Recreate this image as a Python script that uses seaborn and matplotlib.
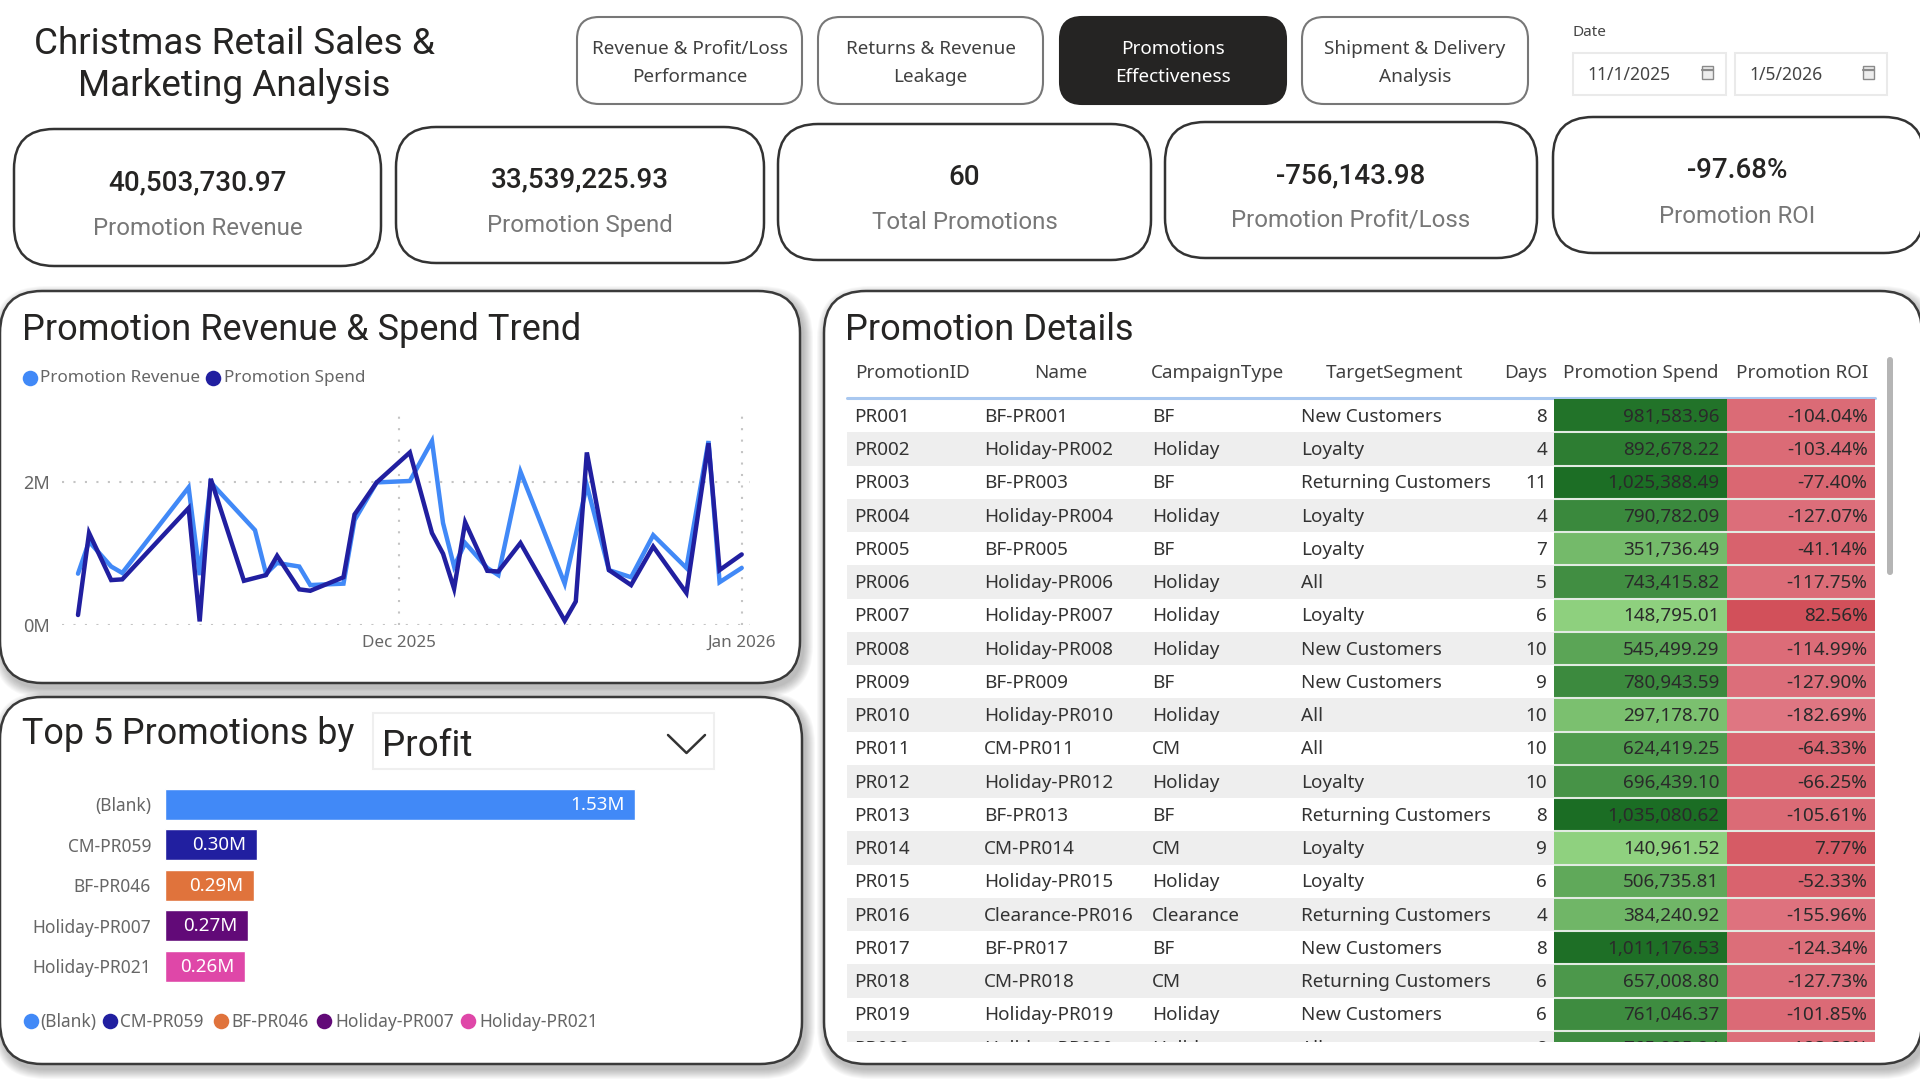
import matplotlib
matplotlib.use("Agg")
import matplotlib.pyplot as plt
import matplotlib.dates as mdates
from matplotlib.colors import LinearSegmentedColormap
from matplotlib.patches import FancyBboxPatch, Rectangle
import numpy as np
import pandas as pd
import seaborn as sns

sns.set_theme(style="white")
plt.rcParams["font.family"] = ["Roboto", "DejaVu Sans"]

W, H = 1920, 1080
INK = "#252423"
MUTED = "#666666"
BODY = "Noto Sans"

# KPI cards
kpi_values = ["40,503,730.97", "33,539,225.93", "60", "-756,143.98", "-97.68%"]
kpi_labels = ["Promotion Revenue", "Promotion Spend", "Total Promotions",
              "Promotion Profit/Loss", "Promotion ROI"]

# Navigation buttons
nav_labels = ["Revenue & Profit/Loss\nPerformance", "Returns & Revenue\nLeakage",
              "Promotions\nEffectiveness", "Shipment & Delivery\nAnalysis"]
date_range = ["11/1/2025", "1/5/2026"]

# Daily trend, in millions
revenue_dates = ["2025-11-02", "2025-11-03", "2025-11-05", "2025-11-06", "2025-11-12",
                 "2025-11-13", "2025-11-14", "2025-11-18", "2025-11-19", "2025-11-20",
                 "2025-11-22", "2025-11-23", "2025-11-26", "2025-11-27", "2025-11-29",
                 "2025-12-02", "2025-12-04", "2025-12-05", "2025-12-06", "2025-12-07",
                 "2025-12-09", "2025-12-10", "2025-12-12", "2025-12-16", "2025-12-18",
                 "2025-12-20", "2025-12-22", "2025-12-24", "2025-12-27", "2025-12-29",
                 "2025-12-30", "2026-01-01"]
revenue_values = [0.72, 1.17, 0.82, 0.73, 1.93, 0.70, 2.00, 1.33, 0.72, 0.87, 0.82, 0.56,
                  0.58, 1.47, 2.00, 2.02, 2.58, 1.43, 0.82, 1.15, 0.80, 0.70, 2.15, 0.58,
                  1.96, 0.77, 0.67, 1.26, 0.80, 2.58, 0.60, 0.80]
spend_dates = ["2025-11-02", "2025-11-03", "2025-11-05", "2025-11-06", "2025-11-12",
               "2025-11-13", "2025-11-14", "2025-11-17", "2025-11-19", "2025-11-20",
               "2025-11-22", "2025-11-23", "2025-11-26", "2025-11-27", "2025-11-29",
               "2025-12-02", "2025-12-04", "2025-12-05", "2025-12-06", "2025-12-07",
               "2025-12-09", "2025-12-10", "2025-12-12", "2025-12-16", "2025-12-17",
               "2025-12-18", "2025-12-20", "2025-12-22", "2025-12-24", "2025-12-27",
               "2025-12-29", "2025-12-30", "2026-01-01"]
spend_values = [0.14, 1.29, 0.63, 0.64, 1.64, 0.05, 2.05, 0.62, 0.70, 0.97, 0.50, 0.48,
                0.67, 1.55, 2.00, 2.42, 1.29, 1.00, 0.51, 1.44, 0.76, 0.75, 1.15, 0.06,
                0.33, 2.42, 0.77, 0.56, 1.10, 0.45, 2.55, 0.77, 0.99]

# Top five promotions by profit, in millions
top_names = ["(Blank)", "CM-PR059", "BF-PR046", "Holiday-PR007", "Holiday-PR021"]
top_profit = [1.53, 0.30, 0.29, 0.27, 0.26]
top_colors = ["#4189F7", "#211FA0", "#E0733C", "#620A78", "#DF47A8"]

# Promotion details table
promotion_ids = ["PR001", "PR002", "PR003", "PR004", "PR005", "PR006", "PR007", "PR008",
                 "PR009", "PR010", "PR011", "PR012", "PR013", "PR014", "PR015", "PR016",
                 "PR017", "PR018", "PR019", "PR020"]
promotion_names = ["BF-PR001", "Holiday-PR002", "BF-PR003", "Holiday-PR004", "BF-PR005",
                   "Holiday-PR006", "Holiday-PR007", "Holiday-PR008", "BF-PR009",
                   "Holiday-PR010", "CM-PR011", "Holiday-PR012", "BF-PR013", "CM-PR014",
                   "Holiday-PR015", "Clearance-PR016", "BF-PR017", "CM-PR018",
                   "Holiday-PR019", "Holiday-PR020"]
campaign_types = ["BF", "Holiday", "BF", "Holiday", "BF", "Holiday", "Holiday", "Holiday",
                  "BF", "Holiday", "CM", "Holiday", "BF", "CM", "Holiday", "Clearance",
                  "BF", "CM", "Holiday", "Holiday"]
target_segments = ["New Customers", "Loyalty", "Returning Customers", "Loyalty", "Loyalty",
                   "All", "Loyalty", "New Customers", "New Customers", "All", "All",
                   "Loyalty", "Returning Customers", "Loyalty", "Loyalty",
                   "Returning Customers", "New Customers", "Returning Customers",
                   "New Customers", "All"]
promotion_days = [8, 4, 11, 4, 7, 5, 6, 10, 9, 10, 10, 10, 8, 9, 6, 4, 8, 6, 6, 8]
promotion_spend = [981583.96, 892678.22, 1025388.49, 790782.09, 351736.49, 743415.82,
                   148795.01, 545499.29, 780943.59, 297178.70, 624419.25, 696439.10,
                   1035080.62, 140961.52, 506735.81, 384240.92, 1011176.53, 657008.80,
                   761046.37, 765835.84]
promotion_roi = [-104.04, -103.44, -77.40, -127.07, -41.14, -117.75, 82.56, -114.99,
                 -127.90, -182.69, -64.33, -66.25, -105.61, 7.77, -52.33, -155.96,
                 -124.34, -127.73, -101.85, -123.33]
table_headers = ["PromotionID", "Name", "CampaignType", "TargetSegment", "Days",
                 "Promotion Spend", "Promotion ROI"]

fig = plt.figure(figsize=(19.2, 10.8), dpi=100, facecolor="white")


def px_axes(x0, y0, x1, y1, **kw):
    """Axes placed by pixel box, with y measured from the top of the canvas."""
    return fig.add_axes([x0 / W, 1 - y1 / H, (x1 - x0) / W, (y1 - y0) / H], **kw)


bg = px_axes(0, 0, W, H, zorder=0)
bg.set_xlim(0, W)
bg.set_ylim(H, 0)
bg.axis("off")


def rounded(x0, y0, x1, y1, r, **kw):
    patch = FancyBboxPatch((x0 + r, y0 + r), x1 - x0 - 2 * r, y1 - y0 - 2 * r,
                           boxstyle=f"round,pad={r},rounding_size={r}", **kw)
    bg.add_patch(patch)
    return patch


def panel(x0, y0, x1, y1, r=42):
    for k in range(10, 0, -1):
        rounded(x0 + 3 - k, y0 + 5 - k, x1 + 3 + k, y1 + 5 + k, r + k,
                fc="#000000", ec="none", alpha=0.028)
    rounded(x0, y0, x1, y1, r, fc="white", ec="#3A3A3A", lw=1.8)


# Page title
bg.text(234, 43.5, "Christmas Retail Sales &", ha="center", va="center", fontsize=26.6, color=INK)
bg.text(234, 86.5, "Marketing Analysis", ha="center", va="center", fontsize=26.6, color=INK)

# Navigation buttons
nav_boxes = [(577, 802), (818, 1043), (1060, 1286), (1302, 1528)]
for i, (label, (x0, x1)) in enumerate(zip(nav_labels, nav_boxes)):
    active = i == 2
    rounded(x0, 17, x1, 104, 22, fc=INK if active else "white",
            ec=INK if active else "#777777", lw=1.5)
    for j, line in enumerate(label.split("\n")):
        bg.text((x0 + x1) / 2, 49 + j * 28.5, line, ha="center", va="center", fontsize=13.6,
                family=BODY, color="white" if active else "#404040")

# Date slicer
bg.text(1572, 32.5, "Date", ha="left", va="center", fontsize=11, family=BODY, color="#444444")
for (x0, x1), value in zip([(1573, 1726), (1735, 1887)], date_range):
    bg.add_patch(Rectangle((x0, 53), x1 - x0, 42, fc="white", ec="#EAEAEA", lw=1.5))
    bg.text(x0 + 14, 75.5, value, ha="left", va="center", fontsize=12.6, family=BODY, color="#444444")
    bg.add_patch(Rectangle((x1 - 24, 66), 11, 13, fc="#EDEDED", ec="#8A8A8A", lw=1.0))
    bg.plot([x1 - 24, x1 - 13], [69.5, 69.5], color="#8A8A8A", lw=1.6)

# KPI cards
kpi_boxes = [(14, 129, 381, 266, 181, 228), (396, 127, 764, 263, 178, 225),
             (778, 124, 1151, 260, 176, 222), (1165, 122, 1537, 258, 174, 220),
             (1553, 117, 1924, 253, 169, 216)]
for (x0, y0, x1, y1, yv, yl), value, label in zip(kpi_boxes, kpi_values, kpi_labels):
    rounded(x0, y0, x1, y1, 40, fc="white", ec="#333333", lw=1.8)
    cx = (x0 + min(x1, 1922)) / 2
    bg.text(cx, yv + 1.5, value, ha="center", va="center", fontsize=20, weight="medium", color=INK)
    bg.text(cx, yl + 0.5, label, ha="center", va="center", fontsize=17.3, color="#777777")

# Panels
panel(0, 291, 800, 683)
panel(0, 697, 802, 1064)
panel(824, 291, 1922, 1064)

# Trend panel
bg.text(22, 330, "Promotion Revenue & Spend Trend", ha="left", va="center", fontsize=26, color=INK)
for dot_x, text_x, label, colour in [(30, 40, "Promotion Revenue", "#4189F7"),
                                     (213, 224, "Promotion Spend", "#211FA0")]:
    bg.scatter([dot_x], [378], s=125, color=colour, zorder=3, linewidths=0)
    bg.text(text_x, 378.5, label, ha="left", va="center", fontsize=12.3, family=BODY, color=MUTED)

trend = pd.concat([
    pd.DataFrame({"date": pd.to_datetime(revenue_dates), "value": revenue_values,
                  "series": "Promotion Revenue"}),
    pd.DataFrame({"date": pd.to_datetime(spend_dates), "value": spend_values,
                  "series": "Promotion Spend"}),
])
ax_line = px_axes(62, 413, 750, 625, zorder=2)
ax_line.patch.set_alpha(0)
sns.lineplot(data=trend, x="date", y="value", hue="series", ax=ax_line, legend=False,
             palette={"Promotion Revenue": "#4189F7", "Promotion Spend": "#211FA0"},
             linewidth=3.2, solid_joinstyle="miter", clip_on=False)
px_per_day = 11.06
ax_line.set_xlim(mdates.date2num(pd.Timestamp("2025-11-02")) - 16 / px_per_day,
                 mdates.date2num(pd.Timestamp("2026-01-01")) + 8.3 / px_per_day)
ax_line.set_ylim(0, 212 / 71.3)
ax_line.set_xticks(mdates.date2num(pd.to_datetime(["2025-12-01", "2026-01-01"])))
ax_line.set_xticklabels(["Dec 2025", "Jan 2026"], fontsize=12.3, family=BODY, color=MUTED)
ax_line.set_yticks([0, 2])
ax_line.set_yticklabels(["0M", "2M"], fontsize=13, family=BODY, color=MUTED)
ax_line.set_xlabel("")
ax_line.set_ylabel("")
ax_line.tick_params(axis="x", length=0, pad=7)
ax_line.tick_params(axis="y", length=0, pad=9)
ax_line.grid(True, color="#C4C4C4", linestyle=(0, (1, 4.5)), linewidth=1.5)
ax_line.set_axisbelow(True)
sns.despine(ax=ax_line, left=True, bottom=True)

# Top five panel
bg.text(22, 734, "Top 5 Promotions by", ha="left", va="center", fontsize=25.8, color=INK)
bg.add_patch(Rectangle((373, 713), 341, 56, fc="white", ec="#EFEFEF", lw=1.5))
bg.text(382, 746, "Profit", ha="left", va="center", fontsize=26.5, color=INK)
bg.plot([668, 686.5, 705], [735, 753, 735], color="#333333", lw=1.8)

ax_bar = px_axes(165, 784, 760, 986.5, zorder=2)
ax_bar.patch.set_alpha(0)
sns.barplot(x=top_profit, y=top_names, hue=top_names, palette=top_colors, width=0.77,
            dodge=False, legend=False, ax=ax_bar, saturation=1)
ax_bar.set_xlim(0, 595 / 307.2)
ax_bar.set_xticks([])
ax_bar.set_xlabel("")
ax_bar.set_ylabel("")
ax_bar.tick_params(axis="y", length=0, pad=10)
for tick in ax_bar.get_yticklabels():
    tick.set_fontsize(12.5)
    tick.set_family(BODY)
    tick.set_color(MUTED)
for i, value in enumerate(top_profit):
    ax_bar.annotate(f"{value:.2f}M", (value, i), xytext=(-7.5, -0.5), textcoords="offset points",
                    ha="right", va="center", color="white", fontsize=13.5, family=BODY)
sns.despine(ax=ax_bar, left=True, bottom=True)

legend_dots = [31, 110, 221, 324, 468]
legend_text = [40, 120, 231, 335, 479]
for dot_x, text_x, name, colour in zip(legend_dots, legend_text, top_names, top_colors):
    bg.scatter([dot_x], [1021], s=125, color=colour, zorder=3, linewidths=0)
    bg.text(text_x, 1022, name, ha="left", va="center", fontsize=12.5, family=BODY, color=MUTED)

# Promotion details panel
bg.text(845, 330, "Promotion Details", ha="left", va="center", fontsize=26, color=INK)
header_x = [855, 1061, 1218, 1394.5, 1547, 1641, 1802]
header_ha = ["left", "center", "center", "center", "right", "center", "center"]
for label, x, ha in zip(table_headers, header_x, header_ha):
    bg.text(x, 373.5, label, ha=ha, va="center", fontsize=13.6, family=BODY, color="#404040")

ROW_H = 33.25
TABLE_TOP, TABLE_BOTTOM = 399, 1041.5
visible_rows = (TABLE_BOTTOM - TABLE_TOP) / ROW_H
n_rows = len(promotion_ids)

ax_tbl = px_axes(847, TABLE_TOP, 1875, TABLE_BOTTOM, zorder=2)
ax_tbl.set_xlim(847, 1875)
ax_tbl.set_ylim(visible_rows, 0)
ax_tbl.axis("off")
for row in range(n_rows):
    if row % 2:
        ax_tbl.add_patch(Rectangle((847, row), 1028, 1, fc="#EEEEEE", ec="none"))
    y = row + 0.54
    for x, text in zip([854, 984, 1152, 1301],
                       [promotion_ids[row], promotion_names[row],
                        campaign_types[row], target_segments[row]]):
        ax_tbl.text(x, y, text, ha="left", va="center", fontsize=13.6, family=BODY,
                    color="#333333", clip_on=True)
    ax_tbl.text(1547, y, str(promotion_days[row]), ha="right", va="center", fontsize=13.6,
                family=BODY, color="#333333", clip_on=True)
bg.plot([847, 1875], [398, 398], color="#A9C8F0", lw=2.2)

greens = LinearSegmentedColormap.from_list("spend", ["#8FD17F", "#55A052", "#1B6D24"])
reds = LinearSegmentedColormap.from_list("roi", ["#DF7682", "#D2505A"])
heat_columns = [
    (1554, 1727, promotion_spend, greens, lambda v: f"{v:,.2f}"),
    (1727, 1875, promotion_roi, reds, lambda v: f"{v:.2f}%"),
]
for x0, x1, values, cmap, fmt in heat_columns:
    ax_heat = px_axes(x0, TABLE_TOP, x1, TABLE_BOTTOM, zorder=3)
    sns.heatmap(np.array(values).reshape(-1, 1), ax=ax_heat, cmap=cmap, cbar=False,
                linewidths=0, xticklabels=False, yticklabels=False)
    ax_heat.hlines(np.arange(1, n_rows), 0, 1, color="#E2EBE2", linewidth=1.5)
    ax_heat.set_ylim(visible_rows, 0)
    ax_heat.set_xlim(0, 1)
    for row, value in enumerate(values):
        ax_heat.text(1 - 7.5 / (x1 - x0), row + 0.54, fmt(value), ha="right", va="center",
                     fontsize=13.6, family=BODY, color="#2A2A2A", clip_on=True)

# Table scrollbar
rounded(1887, 357, 1893, 575, 3, fc="#B5B5B5", ec="none")

fig.savefig("out.png", dpi=100, facecolor="white")
